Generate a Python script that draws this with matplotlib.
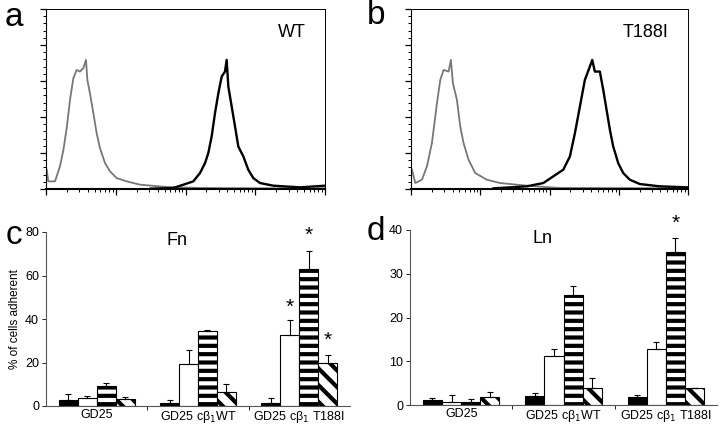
import numpy as np
import matplotlib
matplotlib.use("Agg")
import matplotlib.pyplot as plt
from matplotlib.ticker import FixedLocator, MultipleLocator, NullFormatter

plt.rcParams['font.family'] = ['Liberation Sans', 'DejaVu Sans']
plt.rcParams['hatch.linewidth'] = 3.0

# ---- flow cytometry histograms (log10 intensity, counts) ----
a_gray_x = [0.01, 0.033, 0.129, 0.20, 0.25, 0.30, 0.344, 0.392, 0.44, 0.487, 0.535, 0.573, 0.593,
            0.63, 0.679, 0.726, 0.774, 0.846, 0.918, 1.013, 1.157, 1.348, 1.73, 2.21, 3.16, 4.0]
a_gray_y = [26.8, 10.6, 10.6, 31.4, 54.5, 86.9, 123.8, 153.9, 165.4, 163.1, 167.7, 179.3, 151.6,
            133.0, 105.4, 77.6, 56.8, 36.0, 24.5, 15.2, 10.6, 6.0, 2.8, 1.4, 0.9, 0.9]
a_black_x = [1.5, 1.826, 1.969, 2.112, 2.208, 2.28, 2.327, 2.375, 2.423, 2.471, 2.519, 2.566, 2.59,
             2.614, 2.662, 2.71, 2.757, 2.829, 2.9, 2.972, 3.068, 3.259, 3.642, 4.0]
a_black_y = [0.5, 1.4, 6.0, 10.6, 22.2, 36.0, 49.9, 73.0, 105.4, 133.1, 156.2, 163.1, 179.3,
             142.3, 114.6, 86.9, 59.1, 45.3, 26.8, 15.2, 8.3, 4.6, 2.3, 4.6]

b_gray_x = [0.014, 0.062, 0.158, 0.23, 0.302, 0.375, 0.423, 0.471, 0.543, 0.576, 0.605, 0.663,
            0.711, 0.759, 0.831, 0.927, 1.095, 1.287, 1.671, 2.151, 4.0]
b_gray_y = [26.8, 8.3, 12.9, 31.4, 63.8, 119.2, 151.6, 165.4, 163.1, 179.3, 147.0, 123.8,
            86.9, 63.8, 40.7, 22.2, 12.9, 8.3, 4.6, 1.4, 0.9]
b_black_x = [1.191, 1.671, 1.911, 2.055, 2.199, 2.295, 2.367, 2.439, 2.511, 2.583, 2.617, 2.655,
             2.727, 2.776, 2.824, 2.872, 2.92, 2.992, 3.064, 3.16, 3.304, 3.592, 4.0]
b_black_y = [0.9, 3.7, 8.3, 17.6, 26.8, 45.3, 77.6, 114.6, 151.6, 170.1, 179.3, 163.1,
             163.1, 137.7, 110.0, 82.3, 59.1, 36.0, 22.2, 12.9, 6.9, 3.7, 2.3]

# ---- adhesion bars ----
groups = ['GD25', 'GD25 c\u03b2$_1$WT', 'GD25 c\u03b2$_1$ T188I']
fn_vals = [[2.9, 1.2, 1.5],      # black
           [3.7, 19.5, 32.8],    # white
           [9.0, 34.3, 63.1],    # horizontal stripes
           [3.2, 6.4, 19.8]]     # diagonal stripes
fn_err = [[2.8, 1.7, 2.2],
          [0.9, 6.1, 6.9],
          [1.7, 0.8, 8.0],
          [0.9, 3.9, 3.8]]
ln_vals = [[1.14, 2.1, 1.75],
           [0.76, 11.3, 12.8],
           [0.6, 25.1, 35.0],
           [1.75, 3.8, 4.0]]
ln_err = [[0.56, 0.6, 0.65],
          [1.54, 1.5, 1.5],
          [0.7, 2.1, 3.1],
          [1.25, 2.3, 0.0]]
fn_stars = [(2, 1, 45.5), (2, 2, 78.5), (2, 3, 30.2)]
ln_stars = [(2, 2, 41.5)]

fig = plt.figure(figsize=(7.2, 4.25), dpi=100)


def histo(rect, gx, gy, bx, by, label):
    ax = fig.add_axes(rect)
    ax.plot(10 ** np.array(gx), gy, color='#777777', lw=1.3)
    ax.plot(10 ** np.array(bx), by, color='black', lw=1.7)
    ax.set_xscale('log')
    ax.set_xlim(1, 1e4)
    ax.set_ylim(0, 250)
    major = [10.0 ** k for k in range(5)]
    minor = [m * 10.0 ** k for k in range(4) for m in range(2, 10)]
    ax.xaxis.set_major_locator(FixedLocator(major))
    ax.xaxis.set_minor_locator(FixedLocator(minor))
    ax.xaxis.set_major_formatter(NullFormatter())
    ax.xaxis.set_minor_formatter(NullFormatter())
    ax.yaxis.set_major_locator(MultipleLocator(50))
    ax.yaxis.set_minor_locator(MultipleLocator(10))
    ax.yaxis.set_major_formatter(NullFormatter())
    ax.tick_params(which='major', direction='out', length=4, width=0.9)
    ax.tick_params(which='minor', direction='out', length=2.5, width=0.7)
    ax.spines['top'].set_linewidth(0.7)
    ax.spines['right'].set_linewidth(0.7)
    ax.spines['bottom'].set_linewidth(1.5)
    ax.text(0.93, 0.87, label, transform=ax.transAxes, ha='right', va='center', fontsize=13)
    return ax


def bars(rect, vals, errs, stars, title, ymax, ystep):
    ax = fig.add_axes(rect)
    x = np.arange(len(groups))
    w = 0.187
    faces = ['black', 'white', 'white', 'white']
    hatches = [None, None, '--', '\\\\']
    for i in range(4):
        xs = x + (i - 1.5) * w
        ax.bar(xs, vals[i], w, color=faces[i], edgecolor='black', hatch=hatches[i],
               linewidth=0.8, zorder=2)
        ax.errorbar(xs, vals[i], yerr=[np.zeros(3), errs[i]], fmt='none', ecolor='black',
                    elinewidth=0.8, capsize=2.5, capthick=0.8, zorder=3)
    for g, i, yv in stars:
        ax.text(x[g] + (i - 1.5) * w, yv, '*', ha='center', va='center', fontsize=15,
                clip_on=False)
    ax.set_xlim(-0.5, 2.5)
    ax.set_ylim(0, ymax)
    ax.yaxis.set_major_locator(MultipleLocator(ystep))
    ax.set_xticks([0.5, 1.5])
    ax.set_xticklabels([])
    ax.set_xticks(x, minor=True)
    ax.set_xticklabels(groups, minor=True, fontsize=9)
    ax.tick_params(axis='x', which='minor', length=0, pad=2)
    ax.tick_params(axis='x', which='major', length=3, width=0.6)
    ax.tick_params(axis='y', labelsize=9, length=3, width=0.6, pad=2)
    ax.spines['top'].set_visible(False)
    ax.spines['right'].set_visible(False)
    ax.spines['left'].set_color('#555555')
    ax.spines['bottom'].set_color('#555555')
    ax.text(0.43, 0.95, title, transform=ax.transAxes, ha='center', va='center', fontsize=13)
    return ax


histo([46 / 720, 1 - 189 / 425, 279 / 720, 180 / 425], a_gray_x, a_gray_y, a_black_x, a_black_y, 'WT')
histo([411 / 720, 1 - 189 / 425, 277 / 720, 180 / 425], b_gray_x, b_gray_y, b_black_x, b_black_y, 'T188I')

axc = bars([46 / 720, 1 - 406 / 425, 304 / 720, 174 / 425], fn_vals, fn_err, fn_stars, 'Fn', 80, 20)
axc.set_ylabel('% of cells adherent', fontsize=8.5, labelpad=3)
bars([410 / 720, 1 - 405 / 425, 307 / 720, 175 / 425], ln_vals, ln_err, ln_stars, 'Ln', 40, 10)

for lab, xp, yp in [('a', 14, 18), ('b', 376, 16), ('c', 14, 236), ('d', 376, 232)]:
    fig.text(xp / 720, 1 - yp / 425, lab, fontsize=24, ha='center', va='center')

fig.savefig('out.png', dpi=100)
